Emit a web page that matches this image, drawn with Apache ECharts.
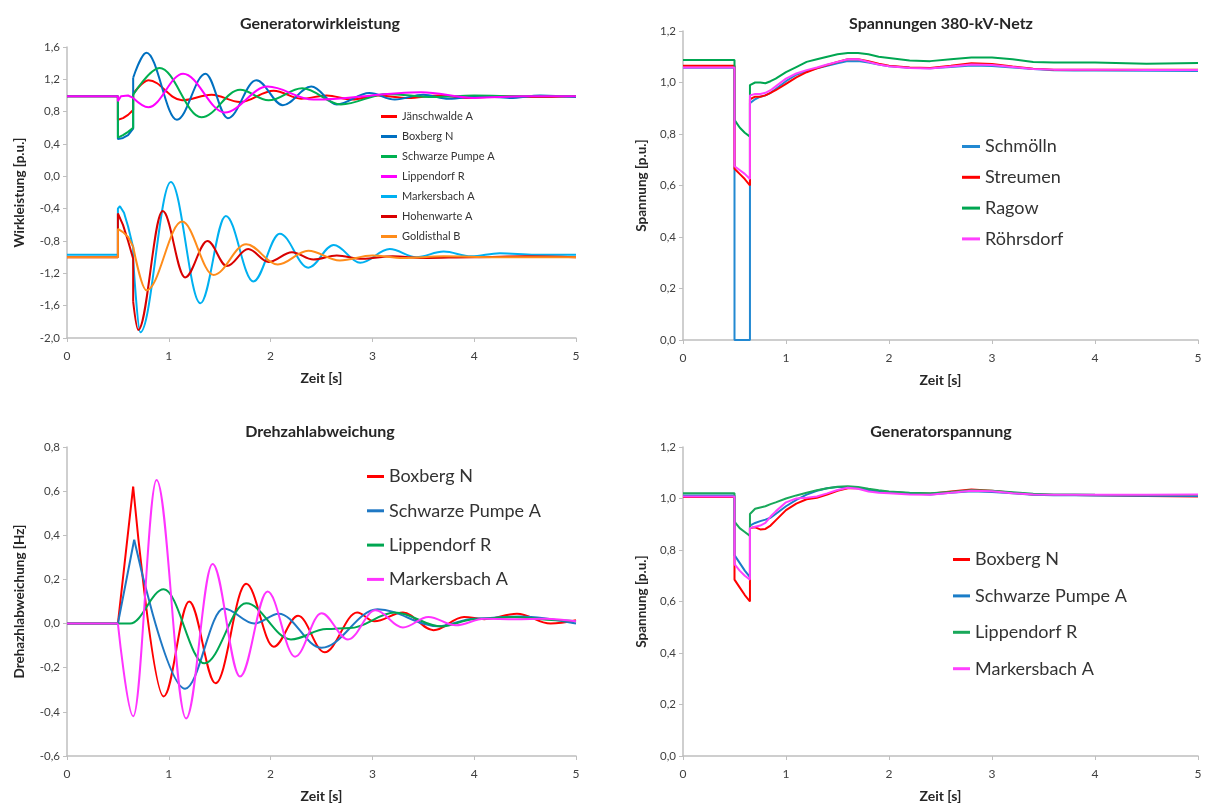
<!DOCTYPE html>
<html><head><meta charset="utf-8">
<script src="https://cdn.jsdelivr.net/npm/echarts@6/dist/echarts.min.js"></script>
<style>html,body{margin:0;padding:0;background:#fff}#c{width:1205px;height:805px}</style>
</head><body><div id="c"></div>
<script>
// ================= DATA =================
const xTicks = [0, 1, 2, 3, 4, 5];

// --- Generatorwirkleistung [p.u.] (top left) ---
const tlNames = ['Jänschwalde A','Boxberg N','Schwarze Pumpe A','Lippendorf R','Markersbach A','Hohenwarte A','Goldisthal B'];
const jaenT = [0,0.5,0.5,0.55,0.6,0.65,0.65,0.80,1.13,1.42,1.70,2.03,2.30,2.55,2.80,3.05,3.35,3.65,3.95,4.30,4.70,5.0];
const jaenV = [0.99,0.99,0.70,0.72,0.76,0.82,1.02,1.19,0.94,1.01,0.92,1.06,0.96,1.0,0.95,1.0,0.97,1.0,0.97,0.99,0.98,0.99];
const boxT  = [0,0.5,0.5,0.55,0.6,0.65,0.65,0.78,1.08,1.36,1.58,1.86,2.12,2.40,2.65,2.97,3.22,3.50,3.75,4.05,4.35,4.65,5.0];
const boxV  = [0.99,0.99,0.46,0.475,0.51,0.59,1.22,1.53,0.70,1.27,0.72,1.19,0.88,1.11,0.89,1.03,0.95,1.01,0.96,0.99,0.97,1.0,0.98];
const spT   = [0,0.5,0.5,0.55,0.6,0.65,0.65,0.91,1.32,1.70,1.98,2.31,2.69,3.15,3.6,4.0,4.5,5.0];
const spV   = [0.99,0.99,0.48,0.51,0.55,0.60,1.01,1.34,0.73,1.07,0.94,1.09,0.89,1.02,0.98,1.0,0.99,0.99];
const lipT  = [0,0.5,0.5,0.53,0.6,0.65,0.80,1.14,1.55,1.97,2.42,3.48,4.0,4.5,5.0];
const lipV  = [0.99,0.99,0.93,0.99,1.0,0.97,0.855,1.27,0.79,1.11,0.95,1.04,0.97,0.99,0.99];
const mkT   = [0,0.5,0.5,0.52,0.56,0.6,0.65,0.65,0.72,1.02,1.31,1.56,1.83,2.09,2.37,2.62,2.88,3.17,3.43,3.70,3.97,4.25,4.6,5.0];
const mkV   = [-0.97,-0.97,-0.40,-0.37,-0.45,-0.62,-0.88,-1.02,-1.93,-0.07,-1.57,-0.49,-1.30,-0.71,-1.13,-0.85,-1.07,-0.90,-1.0,-0.93,-0.99,-0.95,-0.97,-0.97];
const hwT   = [0,0.5,0.5,0.55,0.6,0.65,0.65,0.70,0.94,1.16,1.38,1.57,1.78,1.98,2.21,2.42,2.65,2.90,3.20,3.50,4.0,4.5,5.0];
const hwV   = [-1.0,-1.0,-0.46,-0.60,-0.80,-1.02,-1.55,-1.90,-0.43,-1.25,-0.80,-1.11,-0.90,-1.06,-0.94,-1.03,-0.98,-1.02,-0.99,-1.01,-1.0,-0.99,-1.0];
const gdT   = [0,0.5,0.5,0.55,0.6,0.65,0.78,1.13,1.44,1.76,2.07,2.37,2.68,3.0,3.3,3.7,4.2,5.0];
const gdV   = [-1.0,-1.0,-0.65,-0.69,-0.75,-0.87,-1.41,-0.56,-1.22,-0.84,-1.09,-0.92,-1.04,-0.98,-1.01,-0.99,-1.0,-1.0];

// --- Drehzahlabweichung [Hz] (bottom left) ---
const blNames = ['Boxberg N','Schwarze Pumpe A','Lippendorf R','Markersbach A'];
const dBoxT = [0,0.5,0.65,0.95,1.20,1.46,1.76,2.03,2.27,2.53,2.85,3.02,3.30,3.60,3.90,4.10,4.42,4.75,5.0];
const dBoxV = [0,0,0.62,-0.33,0.10,-0.27,0.18,-0.105,0.035,-0.13,0.05,0.01,0.05,-0.03,0.03,0.02,0.045,0.0,0.015];
const dSpT  = [0,0.5,0.66,1.16,1.54,1.84,2.08,2.50,3.05,3.65,4.0,4.45,5.0];
const dSpV  = [0,0,0.38,-0.295,0.068,0.0,0.045,-0.11,0.065,-0.012,0.022,0.032,0.0];
const dLipT = [0,0.62,0.95,1.35,1.76,2.20,2.55,2.78,3.22,3.68,4.0,4.4,4.8,5.0];
const dLipV = [0,0,0.155,-0.18,0.092,-0.072,-0.025,-0.02,0.05,-0.013,0.02,0.03,0.015,0.01];
const dMkT  = [0,0.5,0.65,0.88,1.17,1.43,1.70,1.97,2.24,2.50,2.76,3.03,3.30,3.55,3.82,4.10,4.40,4.70,5.0];
const dMkV  = [0,0,-0.42,0.65,-0.43,0.27,-0.24,0.145,-0.15,0.047,-0.072,0.06,-0.018,0.03,-0.008,0.022,0.02,0.022,0.01];

// --- common time base for the voltage charts ---
const rT = [0,0.5,0.5,0.55,0.6,0.65,0.65,0.7,0.75,0.8,0.85,0.9,1.0,1.1,1.2,1.3,1.4,1.5,1.6,1.7,1.8,1.9,2.0,2.2,2.4,2.6,2.8,3.0,3.2,3.4,3.6,3.8,4.0,4.5,5.0];

// --- Spannungen 380-kV-Netz [p.u.] (top right) ---
const trNames = ['Schmölln','Streumen','Ragow','Röhrsdorf'];
const schmV = [1.057,1.057,0,0,0,0,0.92,0.935,0.945,0.95,0.96,0.975,1.005,1.03,1.045,1.055,1.065,1.075,1.083,1.083,1.078,1.07,1.063,1.057,1.055,1.06,1.066,1.064,1.058,1.052,1.048,1.047,1.047,1.046,1.045];
const streuV = [1.065,1.065,0.665,0.645,0.625,0.60,0.935,0.945,0.945,0.95,0.96,0.97,0.995,1.02,1.04,1.055,1.068,1.08,1.09,1.09,1.083,1.073,1.065,1.058,1.056,1.065,1.075,1.072,1.062,1.053,1.05,1.05,1.05,1.05,1.05];
const ragowV = [1.087,1.087,0.855,0.825,0.805,0.79,0.99,1.0,1.0,0.997,1.005,1.015,1.04,1.06,1.08,1.09,1.10,1.11,1.115,1.115,1.11,1.10,1.095,1.085,1.083,1.09,1.097,1.097,1.09,1.08,1.078,1.078,1.078,1.073,1.076];
const roehrV = [1.058,1.058,0.675,0.66,0.645,0.625,0.95,0.955,0.955,0.96,0.97,0.985,1.015,1.035,1.048,1.058,1.07,1.08,1.09,1.09,1.08,1.07,1.063,1.056,1.054,1.062,1.07,1.068,1.06,1.052,1.05,1.05,1.05,1.049,1.049];

// --- Generatorspannung [p.u.] (bottom right) ---
const brNames = ['Boxberg N','Schwarze Pumpe A','Lippendorf R','Markersbach A'];
const uBoxV = [1.006,1.006,0.685,0.655,0.625,0.60,0.885,0.888,0.88,0.882,0.895,0.915,0.955,0.98,0.997,1.003,1.015,1.03,1.04,1.04,1.032,1.027,1.025,1.02,1.018,1.027,1.035,1.03,1.022,1.016,1.014,1.014,1.013,1.01,1.008];
const uSpV  = [1.012,1.012,0.78,0.75,0.72,0.695,0.895,0.905,0.912,0.918,0.925,0.94,0.97,0.995,1.015,1.03,1.04,1.045,1.045,1.04,1.033,1.028,1.025,1.02,1.016,1.022,1.028,1.025,1.02,1.015,1.013,1.013,1.012,1.011,1.01];
const uLipV = [1.02,1.02,0.91,0.885,0.87,0.855,0.94,0.96,0.965,0.97,0.978,0.985,1.0,1.012,1.022,1.032,1.04,1.046,1.048,1.045,1.038,1.032,1.027,1.022,1.02,1.025,1.032,1.03,1.024,1.018,1.016,1.016,1.015,1.014,1.014];
const uMkV  = [1.008,1.008,0.745,0.72,0.70,0.685,0.885,0.89,0.895,0.905,0.93,0.95,0.985,1.0,1.003,1.008,1.02,1.033,1.042,1.038,1.027,1.022,1.02,1.016,1.015,1.022,1.03,1.028,1.02,1.016,1.015,1.015,1.015,1.015,1.016];

// ================= BUILD =================
const FONT = 'Lato';
const series = [];
function zip(t, v) { return t.map((x, i) => [x, v[i]]); }
function base(g, key, name, color) {
  return { type: 'line', name: key + '|' + name, xAxisIndex: g, yAxisIndex: g,
    showSymbol: false, symbol: 'none', silent: true,
    lineStyle: { color: color, width: 2 }, itemStyle: { color: color } };
}
// oscillating curves: polyline up to the split point, smooth (extrema-based) afterwards
function addOsc(g, key, name, color, t, v, split) {
  const pts = zip(t, v);
  if (split > 0) series.push(Object.assign(base(g, key, name, color), { data: pts.slice(0, split + 1), smooth: false }));
  series.push(Object.assign(base(g, key, name, color), { data: pts.slice(split), smooth: 0.36, smoothMonotone: 'x' }));
}
function addPoly(g, key, name, color, t, v) {
  series.push(Object.assign(base(g, key, name, color), { data: zip(t, v), smooth: false }));
}

const tlColors = ['#ff0000','#0070c0','#00b050','#ff00ff','#00b0f0','#d80000','#ff8c1a'];
addOsc(0,'tl',tlNames[0],tlColors[0],jaenT,jaenV,6);
addOsc(0,'tl',tlNames[1],tlColors[1],boxT,boxV,6);
addOsc(0,'tl',tlNames[2],tlColors[2],spT,spV,6);
addOsc(0,'tl',tlNames[3],tlColors[3],lipT,lipV,5);
addOsc(0,'tl',tlNames[4],tlColors[4],mkT,mkV,7);
addOsc(0,'tl',tlNames[5],tlColors[5],hwT,hwV,6);
addOsc(0,'tl',tlNames[6],tlColors[6],gdT,gdV,5);

const trColors = ['#2289d2','#ff0000','#00a651','#ff40ff'];
addPoly(1,'tr',trNames[0],trColors[0],rT,schmV);
addPoly(1,'tr',trNames[1],trColors[1],rT,streuV);
addPoly(1,'tr',trNames[2],trColors[2],rT,ragowV);
addPoly(1,'tr',trNames[3],trColors[3],rT,roehrV);

const blColors = ['#ff0000','#1f78c4','#00a651','#ff33ff'];
addOsc(2,'bl',blNames[0],blColors[0],dBoxT,dBoxV,2);
addOsc(2,'bl',blNames[1],blColors[1],dSpT,dSpV,2);
addOsc(2,'bl',blNames[2],blColors[2],dLipT,dLipV,0);
addOsc(2,'bl',blNames[3],blColors[3],dMkT,dMkV,1);

const brColors = ['#ff0000','#1a7dc8','#19a85a','#ff40ff'];
addPoly(3,'br',brNames[0],brColors[0],rT,uBoxV);
addPoly(3,'br',brNames[1],brColors[1],rT,uSpV);
addPoly(3,'br',brNames[2],brColors[2],rT,uLipV);
addPoly(3,'br',brNames[3],brColors[3],rT,uMkV);

const grids = [
  { left: 67,  top: 47,  width: 509, height: 291 },
  { left: 683, top: 31,  width: 515, height: 309 },
  { left: 67,  top: 447, width: 509, height: 309 },
  { left: 683, top: 447, width: 515, height: 309 }
];
const yDefs = [
  { min: -2.0, max: 1.6, interval: 0.4, name: 'Wirkleistung [p.u.]', gap: 40 },
  { min: 0, max: 1.2, interval: 0.2, name: 'Spannung [p.u.]', gap: 34 },
  { min: -0.6, max: 0.8, interval: 0.2, name: 'Drehazhlabweichung [Hz]', gap: 40 },
  { min: 0, max: 1.2, interval: 0.2, name: 'Spannung [p.u.]', gap: 34 }
];
const axisGrey = '#bfbfbf';
const labelCol = '#404040';
const fmt = v => { let r = Math.round(v * 10) / 10; if (r === 0) r = 0; return r.toFixed(1).replace('.', ','); };

const xAxis = grids.map((g, i) => ({
  type: 'value', gridIndex: i, min: xTicks[0], max: xTicks[xTicks.length - 1], interval: 1,
  name: 'Zeit [s]', nameLocation: 'middle', nameGap: 33,
  nameTextStyle: { fontFamily: FONT, fontWeight: 'bold', fontSize: 14, color: '#262626' },
  axisLine: { onZero: false, lineStyle: { color: axisGrey, width: 1.5 } },
  axisTick: { show: true, length: 4, lineStyle: { color: axisGrey } },
  axisLabel: { fontFamily: FONT, fontSize: 12, color: labelCol, margin: 12 },
  splitLine: { show: false }
}));
const yAxis = yDefs.map((d, i) => ({
  type: 'value', gridIndex: i, min: d.min, max: d.max, interval: d.interval,
  name: d.name, nameLocation: 'middle', nameGap: d.gap, nameRotate: 90,
  nameTextStyle: { fontFamily: FONT, fontWeight: 'bold', fontSize: 13.5, color: '#262626' },
  axisLine: { show: true, onZero: false, lineStyle: { color: axisGrey, width: 1.5 } },
  axisTick: { show: true, length: 4, lineStyle: { color: axisGrey } },
  axisLabel: { fontFamily: FONT, fontSize: 11.5, color: labelCol, margin: 7, formatter: fmt },
  splitLine: { show: false }
}));

const titleStyle = { fontFamily: FONT, fontWeight: 'bold', fontSize: 16, color: '#262626' };
const title = [
  { text: 'Generatorwirkleistung', left: 315, top: 11, textAlign: 'center', textStyle: titleStyle },
  { text: 'Spannungen 380-kV-Netz', left: 936, top: 11, textAlign: 'center', textStyle: titleStyle },
  { text: 'Drehzahlabweichung', left: 315, top: 419, textAlign: 'center', textStyle: titleStyle },
  { text: 'Generatorspannung', left: 936, top: 419, textAlign: 'center', textStyle: titleStyle }
];

const strip = n => n.split('|')[1];
function legend(key, names, left, top, fs, lh, gap, iw) {
  return { orient: 'vertical', left: left, top: top, icon: 'rect', itemWidth: iw, itemHeight: 3,
    itemGap: gap, selectedMode: false, formatter: strip, padding: 0,
    textStyle: { fontFamily: FONT, fontSize: fs, lineHeight: lh, color: '#333' },
    data: names.map(n => key + '|' + n) };
}
const legends = [
  legend('tl', tlNames, 381, 110, 11, 13, 7, 16),
  legend('tr', trNames, 962, 136, 18, 21, 9.8, 18),
  legend('bl', blNames, 367, 466, 18, 21, 13.3, 17),
  legend('br', brNames, 953, 549, 18, 21, 15.4, 17)
];

const chart = echarts.init(document.getElementById('c'), null, { renderer: 'canvas' });
chart.setOption({
  animation: false,
  backgroundColor: '#ffffff',
  title: title,
  legend: legends,
  grid: grids,
  xAxis: xAxis,
  yAxis: yAxis,
  series: series
});
</script>
</body></html>
